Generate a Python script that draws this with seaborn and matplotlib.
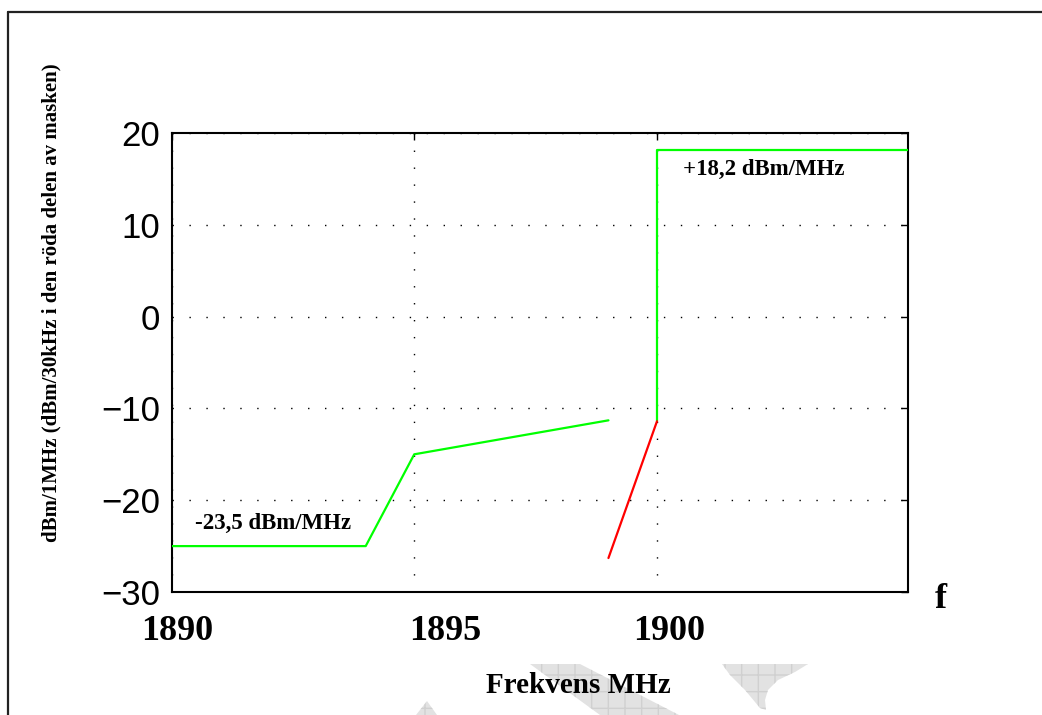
import matplotlib
matplotlib.use("Agg")
import matplotlib.pyplot as plt
import seaborn as sns
import pandas as pd
from matplotlib.lines import Line2D
from matplotlib.patches import Polygon

# mask data (MHz, dBm)
green_low_f = [1890, 1894, 1895, 1899]
green_low_db = [-25, -25, -15, -11.3]
green_high_f = [1900, 1900, 1905.17]
green_high_db = [-11.4, 18.2, 18.2]
red_f = [1899, 1900]
red_db = [-26.3, -11.4]

x_ticks = [1890, 1895, 1900]
x_tick_labels = ["1890", "1895", "1900"]
y_ticks = [20, 10, 0, -10, -20, -30]

label_low = "-23,5 dBm/MHz"
label_high = "+18,2 dBm/MHz"
xlabel = "Frekvens MHz"
ylabel = "dBm/1MHz (dBm/30kHz i den röda delen av masken)"

sns.set_style("white")
plt.rcParams.update({"text.color": "black", "axes.labelcolor": "black",
                     "xtick.color": "black", "ytick.color": "black"})
serif = ["Liberation Serif", "DejaVu Serif"]
sans = ["Liberation Sans", "DejaVu Sans"]

W, H = 1042, 715
fig = plt.figure(figsize=(W / 100, H / 100), dpi=100)
ax = fig.add_axes([171.5 / W, 1 - 592 / H, (908 - 171.5) / W, (592 - 133) / H])

segs = [
    (pd.DataFrame({"f": green_low_f, "db": green_low_db}), "#00ff00"),
    (pd.DataFrame({"f": green_high_f, "db": green_high_db}), "#00ff00"),
    (pd.DataFrame({"f": red_f, "db": red_db}), "#ff0000"),
]
for df, col in segs:
    sns.lineplot(data=df, x="f", y="db", color=col, lw=1.6, sort=False,
                 estimator=None, ax=ax, zorder=3)

ax.set_xlim(1890, 1905.17)
ax.set_ylim(-30, 20)
ax.set_xticks(x_ticks)
ax.set_yticks(y_ticks)
ax.tick_params(axis="x", labelbottom=False)
ax.tick_params(direction="in", length=5, width=1, top=True, right=True,
               color="black", labelcolor="black")
ax.tick_params(axis="y", pad=8, labelsize=25)
for t in ax.get_yticklabels():
    t.set_family(sans)
ax.set_xlabel("")
ax.set_ylabel("")
ax.grid(True, color="black", linestyle=(0, (1, 11.2)), linewidth=1.0)
for s in ax.spines.values():
    s.set_visible(True)
    s.set_color("black")
    s.set_linewidth(1.5)

# bold serif tick labels placed like the original
tick_label_x = [1890.12, 1895.64, 1900.25]
for xv, lab in zip(tick_label_x, x_tick_labels):
    ax.text(xv, -35.2, lab, ha="center", va="baseline", fontsize=26,
            fontweight="bold", family=serif, color="black", clip_on=False)
ax.text(1905.85, -31.7, "f", ha="center", va="baseline", fontsize=26,
        fontweight="bold", family=serif, color="black", clip_on=False)
ax.text(1898.39, -41.0, xlabel, ha="center", va="baseline", fontsize=21,
        fontweight="bold", family=serif, color="black", clip_on=False)
ax.text(1890.48, -23.1, label_low, ha="left", va="baseline", fontsize=16.5,
        fontweight="bold", family=serif, color="black")
ax.text(1900.54, 15.4, label_high, ha="left", va="baseline", fontsize=16.5,
        fontweight="bold", family=serif, color="black")
fig.text(51 / W, 1 - 303 / H, ylabel, rotation=90, ha="center", va="center",
         fontsize=15, fontweight="bold", family=serif, color="black")

# outer frame (top and left edges visible)
fig.add_artist(Line2D([8 / W, 1.0], [1 - 12 / H, 1 - 12 / H], color="#222222",
                      lw=1.6, transform=fig.transFigure))
fig.add_artist(Line2D([8 / W, 8 / W], [1 - 12 / H, 0.0], color="#222222",
                      lw=1.6, transform=fig.transFigure))

# faint watermark shapes at the bottom
def px(pts):
    return [(x / W, 1 - y / H) for x, y in pts]

shapes = [
    [(416, 715), (427, 701), (437, 715)],
    [(530, 664), (580, 664), (679, 715), (600, 715)],
    [(722, 664), (808, 664), (795, 672), (778, 680), (768, 690), (765, 700),
     (766, 710), (760, 708), (745, 690), (730, 675)],
]
for pts in shapes:
    fig.add_artist(Polygon(px(pts), closed=True, facecolor="#e2e2e2",
                           edgecolor="#d0d0d0", hatch="+", lw=0,
                           transform=fig.transFigure, zorder=0))

fig.savefig("out.png", dpi=100)
